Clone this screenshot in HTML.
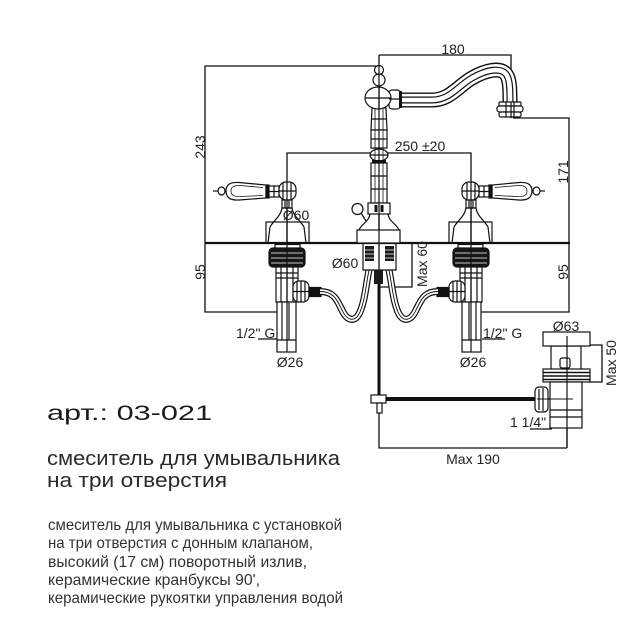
<!DOCTYPE html>
<html><head><meta charset="utf-8"><style>
html,body{margin:0;padding:0;background:#fff;}
svg{display:block;}
</style></head><body>
<svg width="642" height="642" viewBox="0 0 642 642" xmlns="http://www.w3.org/2000/svg">
<rect width="642" height="642" fill="#fff"/>
<defs>
<g id="L" fill="none" stroke="#111" stroke-width="1.2">
 <path d="M213,191 H218"/>
 <ellipse cx="221.5" cy="191" rx="3.5" ry="4" fill="#fff"/>
 <path d="M226,191 C226,184 231,182 239,182.5 L266,185 V198 L239,200 C231,200.5 226,198 226,191 Z" fill="#fff"/>
 <path d="M231,191 C231,186.5 234,185.5 240,185.5 L263,187.5 M231,191 C231,195.5 234,196.5 240,196.5 L263,195.5" stroke-width="0.8"/>
 <rect x="266" y="185" width="3" height="13" fill="#111"/>
 <rect x="269" y="186" width="10" height="11" fill="#fff"/>
 <path d="M269,191.5 H279 M274,186 V197"/>
 <rect x="279" y="182" width="17" height="18" rx="7" fill="#fff"/>
 <path d="M279,191 H296 M283,183 V199 M291,183 V199"/>
 <rect x="282" y="200" width="10" height="8" fill="#fff"/>
 <path d="M285,200 V208 M289,200 V208"/>
 <rect x="266" y="222" width="43" height="21"/>
 <path d="M282,208 C281,216 274,220 270,227 L268,243 M292,208 C293,216 300,220 304,227 L306,243 M282,208 H292"/>
 <rect x="275" y="244.5" width="25" height="4" fill="#fff"/>
 <rect x="269" y="248" width="36" height="19" rx="4" fill="#161616"/>
 <path d="M271,253 H303 M271,258 H303 M271,263 H303" stroke="#fff" stroke-width="0.8"/>
 <rect x="276" y="267" width="22" height="35" fill="#fff"/>
 <path d="M281,267 V302 M287,267 V302 M293,267 V302 M276,273 H298 M276,278 H298"/>
 <rect x="277" y="302" width="19" height="50" fill="#fff"/>
 <path d="M282,302 V340 M289,302 V340 M277,340 H296"/>
 <rect x="293" y="281" width="16" height="21" rx="6" fill="#fff"/>
 <path d="M297,282 V301 M301,281 V302 M305,282 V301 M293,291.5 H309"/>
 <rect x="309" y="287.5" width="12" height="9" fill="#111"/>
 <path d="M320,291.5 C334,291.5 337,300 342,310 C347,321 355,323 360,312 C365,300 366,285 369,270" stroke-width="7"/>
 <path d="M320,291.5 C334,291.5 337,300 342,310 C347,321 355,323 360,312 C365,300 366,285 369,270" stroke="#fff" stroke-width="4.6"/>
 <path d="M320,291.5 C334,291.5 337,300 342,310 C347,321 355,323 360,312 C365,300 366,285 369,270" stroke-width="0.9"/>
</g>
</defs>

<g fill="none" stroke="#111" stroke-width="1.3">
 <path d="M379,55 H511 V118"/>
 <path d="M379,66 H205 V312 H279"/>
 <path d="M513,118 H569 V312 H480"/>
 <path d="M287,352 V153 H471 V352"/>
 <path d="M379,55 V285"/>
 <path d="M412,243 V287 H378"/>
 <path d="M379,405 V448 H567"/>
 <path d="M567,336 V448"/>
 <path d="M537,399 H573"/>
 <path d="M590,345 H602 V382 H590"/>
 <path d="M258,339 H282"/>
 <path d="M482,339 H505"/>
 <path d="M530,429 H552"/>
</g>

<path d="M205,243 H570" stroke="#111" stroke-width="2.2"/>

<g fill="none">
 <path d="M398,100 H432 C450,100 458,86 472,78 C486,70 500,67 506,74 C510,79 510,90 510,104" stroke="#111" stroke-width="15"/>
 <path d="M398,100 H432 C450,100 458,86 472,78 C486,70 500,67 506,74 C510,79 510,90 510,104" stroke="#fff" stroke-width="12.2"/>
 <path d="M398,100 H432 C450,100 458,86 472,78 C486,70 500,67 506,74 C510,79 510,90 510,104" stroke="#111" stroke-width="7"/>
 <path d="M398,100 H432 C450,100 458,86 472,78 C486,70 500,67 506,74 C510,79 510,90 510,104" stroke="#fff" stroke-width="4.6"/>
</g>
<g fill="#fff" stroke="#111" stroke-width="1.2">
 <rect x="499" y="102" width="22" height="4" rx="1"/>
 <rect x="497" y="106" width="26" height="6" rx="2.5"/>
 <rect x="499" y="112" width="22" height="5" rx="2"/>
 <path d="M506,102 V117 M514,102 V117" fill="none"/>
 <path d="M511,102 V118" fill="none"/>
</g>

<g fill="#fff" stroke="#111" stroke-width="1.2">
 <circle cx="379" cy="70" r="4.5"/>
 <circle cx="379" cy="80" r="6"/>
 <path d="M372,108 L371,130 H387 L386,108 Z"/>
 <rect x="371" y="130" width="16" height="18"/>
 <ellipse cx="379" cy="155" rx="9" ry="6"/>
 <rect x="371" y="163" width="16" height="40"/>
 <rect x="389" y="90" width="11" height="19" rx="3"/>
 <ellipse cx="378" cy="98" rx="13" ry="11"/>
 <path d="M365,98 H391 M379,87 V109 M389,99 H399" fill="none"/>
 <path d="M371,119 H387 M371,139 H387 M371,176 H387 M371,189 H387 M370,155 H388" fill="none"/>
 <path d="M375,109 V203 M383,109 V203" fill="none" stroke-width="0.8"/>
 <path d="M379,66 V203" fill="none"/>
 <rect x="368" y="203" width="22" height="11"/>
 <path d="M370,214 C369,222 361,224 359,230 M388,214 C389,222 397,224 399,230" fill="none"/>
 <rect x="357" y="230" width="43" height="13"/>
 <path d="M379,203 V243" fill="none"/>
 <circle cx="357.5" cy="209" r="5.5"/>
 <path d="M361,213 L366,221" fill="none"/>
</g>
<rect x="372" y="160" width="14" height="3" fill="#111"/>
<rect x="399" y="91" width="3" height="17" fill="#111"/>
<rect x="374.5" y="205" width="3" height="7" fill="#111"/>
<rect x="380.5" y="205" width="3" height="7" fill="#111"/>

<use href="#L"/>
<use href="#L" transform="translate(758,0) scale(-1,1)"/>
<path d="M287,182 V352 M471,182 V352" stroke="#111" stroke-width="1.2"/>

<g fill="none" stroke="#111" stroke-width="1.2">
 <path d="M363,243 V270 H396 V243"/>
</g>
<rect x="365" y="246" width="9" height="15" fill="#1a1a1a"/>
<rect x="385" y="246" width="9" height="15" fill="#1a1a1a"/>
<path d="M365,250 H374 M365,254 H374 M365,258 H374 M385,250 H394 M385,254 H394 M385,258 H394" stroke="#fff" stroke-width="0.7"/>
<rect x="374" y="270" width="9" height="14" fill="#1a1a1a"/>
<path d="M379,284 V400" stroke="#111" stroke-width="3"/>
<path d="M372,399 H537" stroke="#111" stroke-width="4"/>
<rect x="371" y="395" width="15" height="8" fill="#fff" stroke="#111" stroke-width="1.2"/>
<rect x="377" y="403" width="5" height="10" fill="#fff" stroke="#111" stroke-width="1.2"/>

<g fill="#fff" stroke="#111" stroke-width="1.2">
 <rect x="551" y="346" width="30" height="24"/>
 <rect x="543" y="332" width="47" height="14"/>
 <rect x="560" y="358" width="10" height="10" rx="2"/>
 <rect x="543" y="369" width="47" height="13"/>
 <rect x="550" y="382" width="32" height="46"/>
 <path d="M550,410 H582 M550,417 H582" fill="none"/>
 <rect x="535" y="387" width="13" height="25" rx="4"/>
 <path d="M539,389 V410 M543,388 V411" fill="none"/>
 <path d="M567,336 V448" fill="none"/>
</g>
<path d="M543,372.5 H590 M543,376 H590 M543,379.5 H590" stroke="#111" stroke-width="1.6"/>
<path d="M537,399 H573" stroke="#111" stroke-width="1.1"/>

<g font-family="Liberation Sans, DejaVu Sans, sans-serif" font-size="14" fill="#222">
 <text x="453" y="54" text-anchor="middle">180</text>
 <text x="420" y="151" text-anchor="middle">250 ±20</text>
 <text transform="translate(200,147) rotate(-90)" text-anchor="middle" dominant-baseline="central">243</text>
 <text transform="translate(200,272) rotate(-90)" text-anchor="middle" dominant-baseline="central">95</text>
 <text transform="translate(563,172) rotate(-90)" text-anchor="middle" dominant-baseline="central">171</text>
 <text transform="translate(563,272) rotate(-90)" text-anchor="middle" dominant-baseline="central">95</text>
 <text transform="translate(422,264) rotate(-90)" text-anchor="middle" dominant-baseline="central">Max 60</text>
 <text transform="translate(611,363) rotate(-90)" text-anchor="middle" dominant-baseline="central">Max 50</text>
 <text x="296" y="220" text-anchor="middle">Ø60</text>
 <text x="345" y="268" text-anchor="middle">Ø60</text>
 <text x="236" y="338">1/2" G</text>
 <text x="483" y="338">1/2" G</text>
 <text x="290" y="367" text-anchor="middle">Ø26</text>
 <text x="473" y="367" text-anchor="middle">Ø26</text>
 <text x="566" y="331" text-anchor="middle">Ø63</text>
 <text x="510" y="427">1 1/4"</text>
 <text x="473" y="464" text-anchor="middle">Max 190</text>
</g>

<g font-family="Liberation Sans, DejaVu Sans, sans-serif">
 <text x="47" y="420" font-size="21" fill="#1c1c1c" textLength="165" lengthAdjust="spacingAndGlyphs">арт.: 03-021</text>
 <text x="47" y="465" font-size="20" fill="#2a2a2a" textLength="293" lengthAdjust="spacingAndGlyphs">смеситель для умывальника</text>
 <text x="47" y="487" font-size="20" fill="#2a2a2a" textLength="180" lengthAdjust="spacingAndGlyphs">на три отверстия</text>
 <g font-size="16" fill="#333">
  <text x="48" y="530" textLength="294" lengthAdjust="spacingAndGlyphs">смеситель для умывальника с установкой</text>
  <text x="48" y="548" textLength="265" lengthAdjust="spacingAndGlyphs">на три отверстия с донным клапаном,</text>
  <text x="48" y="567" textLength="259" lengthAdjust="spacingAndGlyphs">высокий (17 см) поворотный излив,</text>
  <text x="48" y="585" textLength="212" lengthAdjust="spacingAndGlyphs">керамические кранбуксы 90',</text>
  <text x="48" y="603" textLength="295" lengthAdjust="spacingAndGlyphs">керамические рукоятки управления водой</text>
 </g>
</g>
</svg>
</body></html>
